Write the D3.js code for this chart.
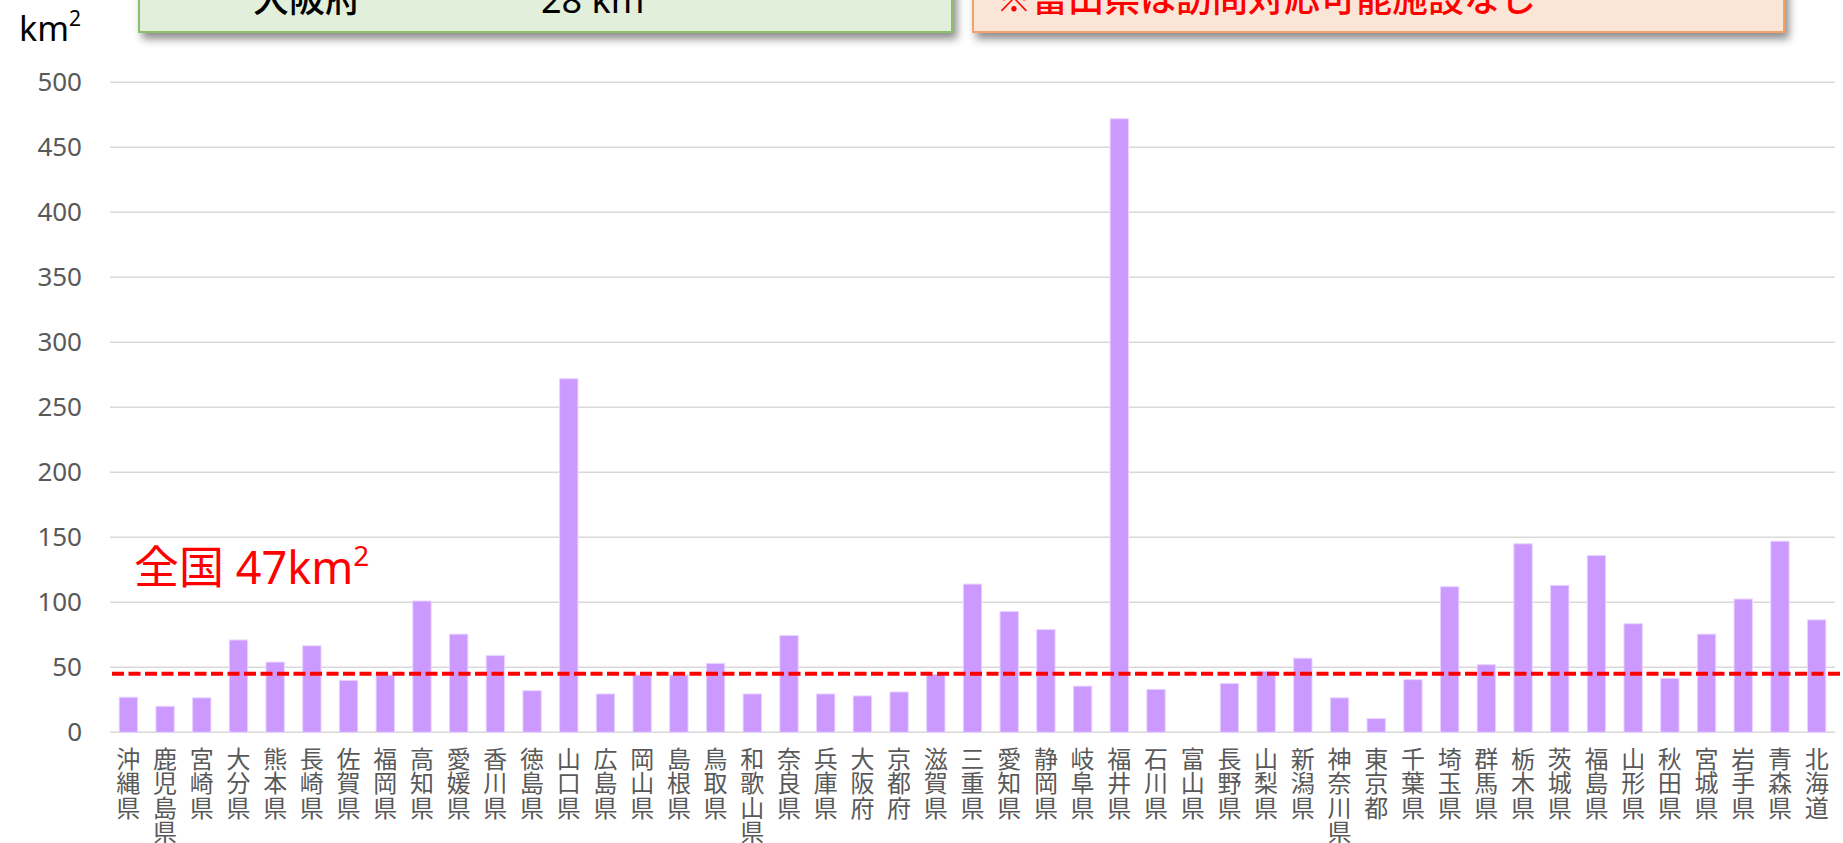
<!DOCTYPE html>
<html>
<head>
<meta charset="utf-8">
<script src="https://cdn.jsdelivr.net/npm/d3@7"></script>
<style>
  body { margin: 0; background: #fff; }
  svg { display: block; }
</style>
</head>
<body>
<div id="chart"></div>
<script>
// prefectures, in the order of the chart
var prefectures = ["沖縄県", "鹿児島県", "宮崎県", "大分県", "熊本県", "長崎県", "佐賀県", "福岡県",
    "高知県", "愛媛県", "香川県", "徳島県", "山口県", "広島県", "岡山県", "島根県", "鳥取県",
    "和歌山県", "奈良県", "兵庫県", "大阪府", "京都府", "滋賀県", "三重県", "愛知県", "静岡県",
    "岐阜県", "福井県", "石川県", "富山県", "長野県", "山梨県", "新潟県", "神奈川県", "東京都",
    "千葉県", "埼玉県", "群馬県", "栃木県", "茨城県", "福島県", "山形県", "秋田県", "宮城県",
    "岩手県", "青森県", "北海道"];

// km2 per facility
var areaValues = [27, 20, 26.5, 71, 54, 66.5, 40, 44,
    101, 75.5, 59, 32, 272, 29.5, 44, 44, 53,
    29.5, 74.5, 29.5, 28, 31, 44.5, 114, 93, 79,
    35.5, 472, 33, 0, 37.5, 47, 57, 26.5, 10.5,
    40.5, 112, 52, 145, 113, 136, 83.5, 41.5, 75.5,
    102.5, 147, 86.5];

var yTickValues = [0, 50, 100, 150, 200, 250, 300, 350, 400, 450, 500];

// national average line
var nationalLine = 45;
var nationalLabel = "全国 47km";

// boxes at the top (only their lower part is in view)
var greenBoxTexts = ["大阪府", "28 km"];
var redBoxText = "※富山県は訪問対応可能施設なし";

var width = 1843, height = 843;
var plotLeft = 110, plotRight = 1835, plotTop = 82.3, plotBottom = 732.3;

var svg = d3.select("#chart").append("svg")
    .attr("width", width)
    .attr("height", height);

var defs = svg.append("defs");
var f = defs.append("filter").attr("id", "shadow")
    .attr("x", "-5%").attr("y", "-50%").attr("width", "110%").attr("height", "200%");
f.append("feDropShadow")
    .attr("dx", 4).attr("dy", 6)
    .attr("stdDeviation", 4)
    .attr("flood-color", "#000")
    .attr("flood-opacity", 0.45);

//scales
var x = d3.scaleBand()
    .domain(prefectures)
    .range([plotLeft, plotRight])
    .paddingInner(0.5)
    .paddingOuter(0.25);

var y = d3.scaleLinear()
    .domain([0, 500])
    .range([plotBottom, plotTop]);

//gridlines
svg.append("g")
    .selectAll("line")
    .data(yTickValues)
    .enter().append("line")
    .attr("x1", plotLeft)
    .attr("x2", plotRight)
    .attr("y1", function(d) { return y(d); })
    .attr("y2", function(d) { return y(d); })
    .style("stroke", "#d9d9d9")
    .style("stroke-width", 1.5);

//y axis labels
var yAxis = d3.axisLeft(y)
    .tickValues(yTickValues)
    .tickSize(0)
    .tickPadding(0);

var yg = svg.append("g")
    .attr("transform", "translate(82,0)")
    .call(yAxis);
yg.select(".domain").remove();
yg.selectAll("text")
    .style("font-family", "'Noto Sans', sans-serif")
    .style("font-size", "26px")
    .style("fill", "#595959");

//bars
svg.append("g")
    .selectAll("rect")
    .data(prefectures)
    .enter().append("rect")
    .attr("x", function(d) { return x(d); })
    .attr("width", x.bandwidth())
    .attr("y", function(d, i) { return y(areaValues[i]); })
    .attr("height", function(d, i) { return y(0) - y(areaValues[i]); })
    .style("fill", "#cc99ff")
    .style("stroke", "#e8d4ff")
    .style("stroke-width", 1);

//x labels, one character per line
var xl = svg.append("g")
    .selectAll("text")
    .data(prefectures)
    .enter().append("text")
    .attr("x", function(d) { return x(d) + x.bandwidth() / 2; })
    .attr("y", 768)
    .attr("text-anchor", "middle")
    .style("font-family", "'Noto Sans CJK JP', sans-serif")
    .style("font-size", "24px")
    .style("fill", "#595959");

xl.each(function(d) {
    var t = d3.select(this);
    d.split("").forEach(function(c, k) {
        t.append("tspan")
            .attr("x", t.attr("x"))
            .attr("dy", k === 0 ? 0 : 24.3)
            .text(c);
    });
});

//national line
svg.append("line")
    .attr("x1", plotLeft + 2)
    .attr("x2", plotRight + 6)
    .attr("y1", y(nationalLine))
    .attr("y2", y(nationalLine))
    .style("stroke", "#ff0000")
    .style("stroke-width", 4)
    .style("stroke-dasharray", "12,4.5");

var nl = svg.append("text")
    .attr("x", 134)
    .attr("y", 584)
    .style("font-family", "'Noto Sans', 'Noto Sans CJK JP', sans-serif")
    .style("font-size", "45px")
    .style("fill", "#ff0000")
    .text(nationalLabel);
nl.append("tspan")
    .attr("dy", -18)
    .style("font-size", "28px")
    .text("2");

//unit
var unit = svg.append("text")
    .attr("x", 19)
    .attr("y", 41)
    .style("font-family", "'Noto Sans', sans-serif")
    .style("font-size", "34px")
    .style("fill", "#000")
    .text("km");
unit.append("tspan")
    .attr("dy", -15)
    .style("font-size", "21px")
    .text("2");

//green box
svg.append("rect")
    .attr("x", 139)
    .attr("y", -60)
    .attr("width", 813)
    .attr("height", 92)
    .style("fill", "#e2efda")
    .style("stroke", "#8cc068")
    .style("stroke-width", 2)
    .attr("filter", "url(#shadow)");

svg.append("text")
    .attr("x", 253)
    .attr("y", 12)
    .style("font-family", "'Noto Sans CJK JP', sans-serif")
    .style("font-size", "36px")
    .style("font-weight", 500)
    .style("fill", "#000")
    .text(greenBoxTexts[0]);

var kmText = svg.append("text")
    .attr("x", 541)
    .attr("y", 13)
    .style("font-family", "'Noto Sans', sans-serif")
    .style("font-size", "36px")
    .style("fill", "#000")
    .text(greenBoxTexts[1]);
kmText.append("tspan")
    .attr("dy", -15)
    .style("font-size", "22px")
    .text("2");

//red box
svg.append("rect")
    .attr("x", 973)
    .attr("y", -60)
    .attr("width", 811)
    .attr("height", 92)
    .style("fill", "#fbe5d6")
    .style("stroke", "#f4a26b")
    .style("stroke-width", 2)
    .attr("filter", "url(#shadow)");

svg.append("text")
    .attr("x", 996)
    .attr("y", 12)
    .style("font-family", "'Noto Sans CJK JP', sans-serif")
    .style("font-size", "36px")
    .style("font-weight", 500)
    .style("fill", "#ff0000")
    .text(redBoxText);
</script>
</body>
</html>
